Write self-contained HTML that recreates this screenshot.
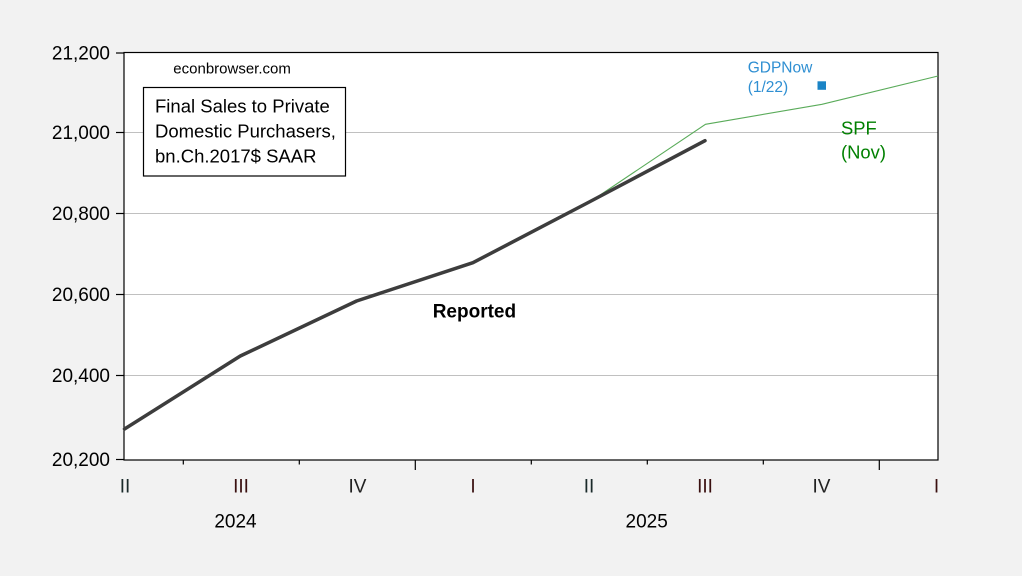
<!DOCTYPE html>
<html>
<head>
<meta charset="utf-8">
<style>
  html, body { margin:0; padding:0; background:#f2f2f2; }
  svg { display:block; }
  text { font-family: "Liberation Sans", Arial, sans-serif; }
</style>
</head>
<body>
<svg width="1022" height="576" viewBox="0 0 1022 576" xmlns="http://www.w3.org/2000/svg">
  <rect x="0" y="0" width="1022" height="576" fill="#f2f2f2"/>
  <!-- plot area -->
  <rect x="124" y="52.5" width="814" height="407.5" fill="#ffffff"/>
  <!-- gridlines -->
  <g stroke="#c0c0c0" stroke-width="1">
    <line x1="124" y1="132.5" x2="938" y2="132.5"/>
    <line x1="124" y1="213.5" x2="938" y2="213.5"/>
    <line x1="124" y1="294.5" x2="938" y2="294.5"/>
    <line x1="124" y1="375.5" x2="938" y2="375.5"/>
  </g>
  <!-- frame -->
  <rect x="124" y="52.5" width="814" height="407.5" fill="none" stroke="#000" stroke-width="1.2"/>
  <!-- y ticks -->
  <g stroke="#000" stroke-width="1.2">
    <line x1="116" y1="53" x2="124" y2="53"/>
    <line x1="116" y1="132.5" x2="124" y2="132.5"/>
    <line x1="116" y1="213.5" x2="124" y2="213.5"/>
    <line x1="116" y1="294.5" x2="124" y2="294.5"/>
    <line x1="116" y1="375.5" x2="124" y2="375.5"/>
    <line x1="116" y1="459.5" x2="124" y2="459.5"/>
  </g>
  <!-- x ticks -->
  <g stroke="#000" stroke-width="1.2">
    <line x1="183.3" y1="460" x2="183.3" y2="464.5"/>
    <line x1="299.3" y1="460" x2="299.3" y2="464.5"/>
    <line x1="415.3" y1="460" x2="415.3" y2="470"/>
    <line x1="531.3" y1="460" x2="531.3" y2="464.5"/>
    <line x1="647.3" y1="460" x2="647.3" y2="464.5"/>
    <line x1="763.3" y1="460" x2="763.3" y2="464.5"/>
    <line x1="879.3" y1="460" x2="879.3" y2="470"/>
  </g>
  <!-- y labels -->
  <g font-size="19" fill="#000" text-anchor="end">
    <text x="110" y="59.5">21,200</text>
    <text x="110" y="139">21,000</text>
    <text x="110" y="220">20,800</text>
    <text x="110" y="301">20,600</text>
    <text x="110" y="382">20,400</text>
    <text x="110" y="466">20,200</text>
  </g>
  <!-- x labels -->
  <g font-size="19" text-anchor="middle">
    <text x="125" y="492.3" fill="#1a2a2a">II</text>
    <text x="241" y="492.3" fill="#3a1010">III</text>
    <text x="357.5" y="492.3" fill="#222">IV</text>
    <text x="473" y="492.3" fill="#3a1010">I</text>
    <text x="589" y="492.3" fill="#1a2a2a">II</text>
    <text x="705" y="492.3" fill="#3a1010">III</text>
    <text x="821.5" y="492.3" fill="#222">IV</text>
    <text x="936.5" y="492.3" fill="#3a1010">I</text>
    <text x="235.5" y="527.3" fill="#000">2024</text>
    <text x="646.7" y="527.3" fill="#000">2025</text>
  </g>
  <!-- SPF line -->
  <polyline points="589,202.5 705.5,124.3 822,104.3 938,76" fill="none" stroke="#5aab5a" stroke-width="1.1"/>
  <!-- Reported line -->
  <polyline points="124.5,429 240.3,356 356.6,301 472.9,262.7 589.2,202 705,140.7" fill="none" stroke="#3d3d3d" stroke-width="3.5" stroke-linejoin="round" stroke-linecap="round"/>
  <!-- GDPNow point -->
  <rect x="817.5" y="81.3" width="8.5" height="8.5" fill="#1b84c6"/>
  <!-- annotations -->
  <text x="173.3" y="73.3" font-size="15" fill="#000">econbrowser.com</text>
  <rect x="143.5" y="87.5" width="202" height="88.5" fill="#fff" stroke="#000" stroke-width="1.2"/>
  <g font-size="18.5" fill="#000">
    <text x="155" y="112.7">Final Sales to Private</text>
    <text x="155" y="137.5">Domestic Purchasers,</text>
    <text x="155" y="162.3">bn.Ch.2017$ SAAR</text>
  </g>
  <g font-size="15.5" fill="#2f8fd2">
    <text x="747.7" y="72.7">GDPNow</text>
    <text x="747.7" y="92">(1/22)</text>
  </g>
  <g font-size="18.4" fill="#008000">
    <text x="841" y="134.3">SPF</text>
    <text x="841" y="158.7">(Nov)</text>
  </g>
  <text x="432.7" y="317.3" font-size="19" font-weight="bold" fill="#000">Reported</text>
</svg>
</body>
</html>
